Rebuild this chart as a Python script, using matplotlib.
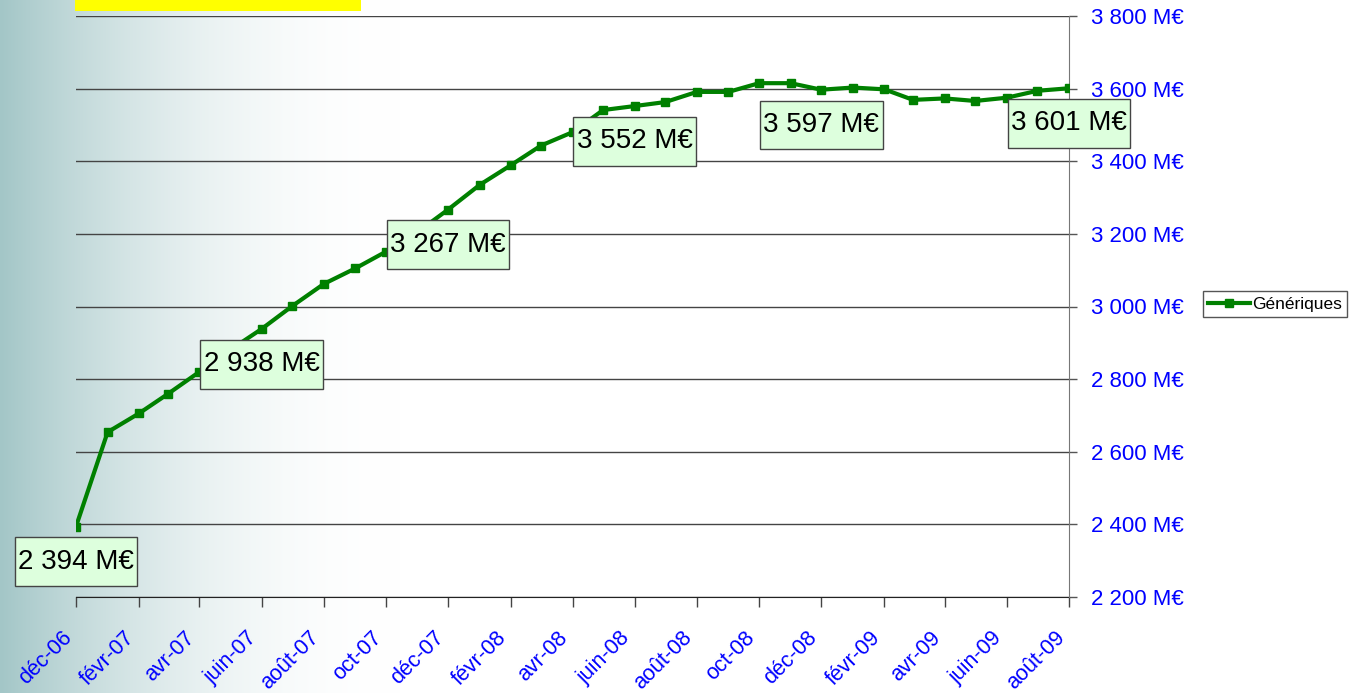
import numpy as np
import matplotlib
matplotlib.use("Agg")
import matplotlib.pyplot as plt
import matplotlib.transforms as mtransforms
from matplotlib.patches import Rectangle
from matplotlib.path import Path
import datetime as dt

plt.rcParams['font.family'] = ['Liberation Sans', 'DejaVu Sans']

# ---- data ----
months = ["2006-12", "2007-01", "2007-02", "2007-03", "2007-04", "2007-05", "2007-06",
          "2007-07", "2007-08", "2007-09", "2007-10", "2007-11", "2007-12",
          "2008-01", "2008-02", "2008-03", "2008-04", "2008-05", "2008-06",
          "2008-07", "2008-08", "2008-09", "2008-10", "2008-11", "2008-12",
          "2009-01", "2009-02", "2009-03", "2009-04", "2009-05", "2009-06",
          "2009-07", "2009-08"]
generiques = [2394, 2654, 2706, 2759, 2820, 2880, 2938,
              3001, 3062, 3105, 3151, 3205, 3267,
              3335, 3390, 3443, 3480, 3541, 3552,
              3563, 3591, 3591, 3615, 3615, 3597,
              3603, 3598, 3569, 3573, 3566, 3575,
              3594, 3601]
labelled_idx = [0, 6, 12, 18, 24, 32]
tick_months = ["2006-12", "2007-02", "2007-04", "2007-06", "2007-08", "2007-10",
               "2007-12", "2008-02", "2008-04", "2008-06", "2008-08", "2008-10",
               "2008-12", "2009-02", "2009-04", "2009-06", "2009-08"]
tick_labels = ["déc-06", "févr-07", "avr-07", "juin-07", "août-07", "oct-07",
               "déc-07", "févr-08", "avr-08", "juin-08", "août-08", "oct-08",
               "déc-08", "févr-09", "avr-09", "juin-09", "août-09"]
y_ticks = [2200, 2400, 2600, 2800, 3000, 3200, 3400, 3600, 3800]
series_name = "Génériques"


def to_date(s):
    y, m = s.split("-")
    return dt.datetime(int(y), int(m), 1)


dates = [to_date(s) for s in months]
tdates = [to_date(s) for s in tick_months]


def fmt(v):
    s = f"{v:,}".replace(",", " ")
    return s + " M€"


def label_box(x0, y0, width, height, mutation_size):
    px = 0.12 * mutation_size
    py = 0.41 * mutation_size
    verts = [(x0 - px, y0 - py), (x0 + width + px, y0 - py),
             (x0 + width + px, y0 + height + py), (x0 - px, y0 + height + py),
             (x0 - px, y0 - py)]
    return Path(verts, closed=True)


W, H = 1350, 693
fig = plt.figure(figsize=(W / 100, H / 100), dpi=100)

# background gradient
bg = fig.add_axes([0, 0, 1, 1], zorder=-10)
xpix = np.arange(W)
frac = np.clip(xpix / 400.0, 0, 1)
frac = 1 - (1 - frac) ** 2
c0 = np.array([163, 198, 199]) / 255.0
c1 = np.array([1.0, 1.0, 1.0])
row = c0[None, :] * (1 - frac[:, None]) + c1[None, :] * frac[:, None]
img = np.repeat(row[None, :, :], 2, axis=0)
bg.imshow(img, aspect='auto', extent=[0, 1, 0, 1])
bg.set_axis_off()

# yellow box at top
fig.patches.append(Rectangle((75 / W, 1 - 11 / H), (361 - 75) / W, 11 / H,
                             transform=fig.transFigure, facecolor='#FFFF00',
                             edgecolor='none', zorder=5))

ax = fig.add_axes([76 / W, 1 - 597 / H, (1069 - 76) / W, (597 - 16) / H])
ax.set_facecolor('none')

line, = ax.plot(dates, generiques, color='#008000', lw=3, marker='s', ms=6,
                mec='#008000', mfc='#008000', zorder=3, label=series_name,
                solid_joinstyle='round')

ax.set_xlim(dates[0], dates[-1])
ax.set_ylim(2200, 3800)

ax.yaxis.tick_right()
ax.set_yticks(y_ticks)
ax.set_yticklabels([fmt(v) for v in y_ticks], color='#0000FF', fontsize=16)
ax.tick_params(axis='y', length=6, width=1, color='#555555', pad=10)
ax.grid(axis='y', color='#444444', lw=1, zorder=1)

ax.set_xticks(tdates)
ax.tick_params(axis='x', length=7, width=1, color='#444444', labelbottom=False)
# rotated month labels, anchored at their top-right corner below each tick
xlab_trans = mtransforms.blended_transform_factory(ax.transData, ax.transAxes) + \
    mtransforms.ScaledTranslation(-15 / 100, -30 / 100, fig.dpi_scale_trans)
for d, lab in zip(tdates, tick_labels):
    ax.text(d, 0, lab, transform=xlab_trans, rotation=45, rotation_mode='anchor',
            ha='right', va='top', color='#0000FF', fontsize=15.5, clip_on=False)

for s in ['left', 'top']:
    ax.spines[s].set_visible(False)
ax.spines['right'].set_color('#777777')
ax.spines['bottom'].set_color('#222222')
ax.spines['bottom'].set_zorder(2)

for i in labelled_idx:
    ax.annotate(fmt(generiques[i]), xy=(dates[i], generiques[i]), xytext=(0, -16),
                textcoords='offset points', ha='center', va='top', fontsize=20,
                color='black', zorder=6,
                bbox=dict(boxstyle=label_box, fc='#DDFFDD', ec='#444444', lw=1))

fig.legend(handles=[line], labels=[series_name], loc='center',
           bbox_to_anchor=(1275 / W, 1 - 304 / H), fontsize=12.5, frameon=True,
           fancybox=False, edgecolor='#555555', framealpha=1, handlelength=2.4,
           handletextpad=0.1, borderpad=0.3, borderaxespad=0)

fig.savefig("out.png", dpi=100)
